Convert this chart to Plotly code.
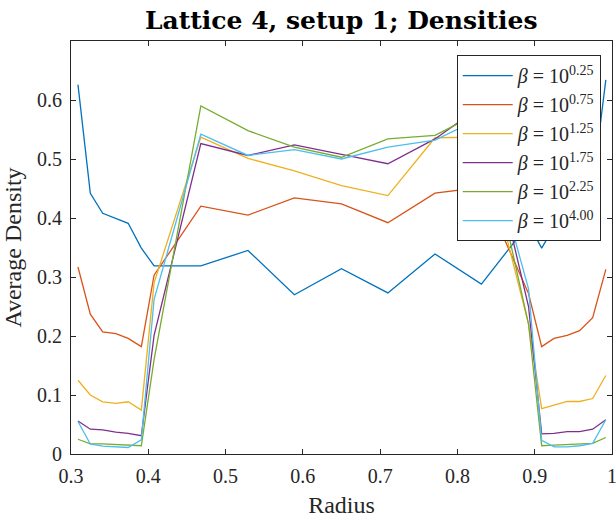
import plotly.graph_objects as go

radius = [0.309, 0.325, 0.341, 0.358, 0.374, 0.391, 0.4075,
          0.468, 0.529, 0.589, 0.650, 0.710, 0.771, 0.831,
          0.892, 0.909, 0.925, 0.942, 0.958, 0.975, 0.992]

beta_labels = ["0.25", "0.75", "1.25", "1.75", "2.25", "4.00"]

dens_b025 = [0.626, 0.442, 0.408, 0.399, 0.391, 0.349, 0.319,
             0.319, 0.345, 0.270, 0.314, 0.273, 0.339, 0.288,
             0.390, 0.349, 0.385, 0.400, 0.410, 0.455, 0.634]
dens_b075 = [0.317, 0.237, 0.207, 0.204, 0.196, 0.182, 0.303,
             0.420, 0.405, 0.434, 0.424, 0.392, 0.442, 0.452,
             0.272, 0.182, 0.196, 0.201, 0.209, 0.231, 0.313]
dens_b125 = [0.125, 0.100, 0.0885, 0.0857, 0.0885, 0.0745, 0.290,
             0.537, 0.501, 0.480, 0.455, 0.438, 0.536, 0.537,
             0.220, 0.077, 0.083, 0.089, 0.089, 0.094, 0.133]
dens_b175 = [0.056, 0.042, 0.041, 0.037, 0.035, 0.031, 0.201,
             0.526, 0.506, 0.524, 0.508, 0.492, 0.534, 0.590,
             0.250, 0.034, 0.035, 0.038, 0.038, 0.042, 0.058]
dens_b225 = [0.025, 0.017, 0.017, 0.016, 0.016, 0.014, 0.160,
             0.590, 0.548, 0.520, 0.503, 0.534, 0.540, 0.580,
             0.220, 0.014, 0.015, 0.016, 0.017, 0.018, 0.028]
dens_b400 = [0.055, 0.017, 0.0135, 0.012, 0.011, 0.024, 0.262,
             0.542, 0.506, 0.516, 0.500, 0.520, 0.532, 0.570,
             0.280, 0.023, 0.012, 0.012, 0.014, 0.018, 0.058]

series = [dens_b025, dens_b075, dens_b125, dens_b175, dens_b225, dens_b400]
colors = ["#0072BD", "#D95319", "#EDB120", "#7E2F8E", "#77AC30", "#4DBEEE"]

xticks = [0.3, 0.4, 0.5, 0.6, 0.7, 0.8, 0.9, 1.0]
xticklabels = ["0.3", "0.4", "0.5", "0.6", "0.7", "0.8", "0.9", "1"]
yticks = [0, 0.1, 0.2, 0.3, 0.4, 0.5, 0.6]
yticklabels = ["0", "0.1", "0.2", "0.3", "0.4", "0.5", "0.6"]

FONT = "Liberation Serif"

fig = go.Figure()
for vals, lab, col in zip(series, beta_labels, colors):
    fig.add_trace(go.Scatter(
        x=radius, y=vals, mode="lines",
        line=dict(color=col, width=1.3),
        name="<i>β</i> = 10<sup>" + lab + "</sup>",
    ))

axis_common = dict(
    showline=True, linecolor="#262626", linewidth=1, mirror="ticks",
    ticks="inside", ticklen=5, tickcolor="#262626", showgrid=False, zeroline=False,
    tickfont=dict(family=FONT, size=20, color="#262626"),
    ticklabeloverflow="allow", automargin=False,
)

fig.update_layout(
    width=616, height=521,
    margin=dict(l=71, r=4, t=41, b=67, autoexpand=False),
    paper_bgcolor="white", plot_bgcolor="white",
    title=dict(text="<b>Lattice 4, setup 1; Densities</b>", x=0.554, xanchor="center",
               y=0.962, yanchor="middle",
               font=dict(family="DejaVu Serif", size=25, color="black")),
    xaxis=dict(range=[0.3, 1.0], tickvals=xticks, ticktext=xticklabels,
               ticklabelstandoff=4,
               title=dict(text="Radius", font=dict(family=FONT, size=24, color="#262626"), standoff=10),
               **axis_common),
    yaxis=dict(range=[0, 0.7], tickvals=yticks, ticktext=yticklabels,
               ticklabelstandoff=4,
               title=dict(text="Average Density", font=dict(family=FONT, size=24, color="#262626"), standoff=8),
               **axis_common),
    legend=dict(x=0.713, y=0.966, xanchor="left", yanchor="top",
                bgcolor="white", bordercolor="#262626", borderwidth=1,
                font=dict(family=FONT, size=20, color="#262626"),
                itemwidth=50, tracegroupgap=0),
    showlegend=True,
)

fig.write_html("out.html")
